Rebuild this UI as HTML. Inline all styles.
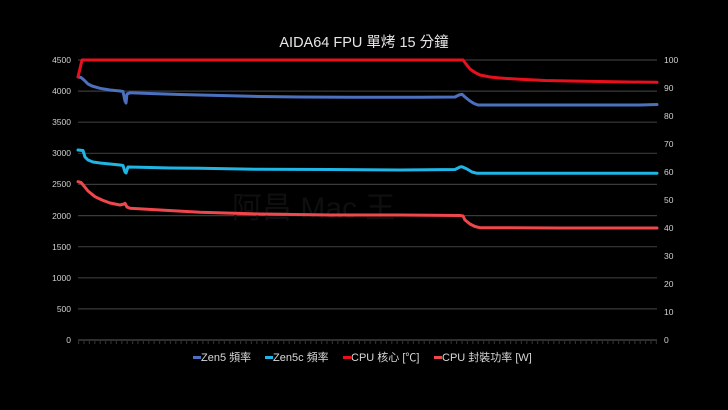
<!DOCTYPE html>
<html><head><meta charset="utf-8"><style>
html,body{margin:0;padding:0;background:#000;}
svg{display:block;}
text{font-family:"Liberation Sans","Noto Sans CJK TC",sans-serif;}
</style></head><body>
<svg width="728" height="410" viewBox="0 0 728 410" xmlns="http://www.w3.org/2000/svg">
<rect width="728" height="410" fill="#000"/>
<text x="364" y="47" text-anchor="middle" font-size="14.5" fill="#e6e6e6">AIDA64 FPU 單烤 15 分鐘</text>
<g stroke="#3a3a3a" stroke-width="1.2">
<line x1="78" y1="60" x2="657" y2="60"/>
<line x1="78" y1="91.1" x2="657" y2="91.1"/>
<line x1="78" y1="122.2" x2="657" y2="122.2"/>
<line x1="78" y1="153.3" x2="657" y2="153.3"/>
<line x1="78" y1="184.4" x2="657" y2="184.4"/>
<line x1="78" y1="215.6" x2="657" y2="215.6"/>
<line x1="78" y1="246.7" x2="657" y2="246.7"/>
<line x1="78" y1="277.8" x2="657" y2="277.8"/>
<line x1="78" y1="308.9" x2="657" y2="308.9"/>
</g>
<line x1="78" y1="340" x2="657" y2="340" stroke="#4a4a4a" stroke-width="1.2"/>
<line x1="78" y1="342.5" x2="657" y2="342.5" stroke="#2c2c2c" stroke-width="3" stroke-dasharray="1.2 4.2"/>
<g font-size="8.5" fill="#d0d0d0" text-anchor="end">
<text x="71" y="63">4500</text>
<text x="71" y="94">4000</text>
<text x="71" y="125">3500</text>
<text x="71" y="156">3000</text>
<text x="71" y="187">2500</text>
<text x="71" y="219">2000</text>
<text x="71" y="250">1500</text>
<text x="71" y="281">1000</text>
<text x="71" y="312">500</text>
<text x="71" y="343">0</text>
</g>
<g font-size="8.5" fill="#d0d0d0">
<text x="664" y="63">100</text>
<text x="664" y="91">90</text>
<text x="664" y="119">80</text>
<text x="664" y="147">70</text>
<text x="664" y="175">60</text>
<text x="664" y="203">50</text>
<text x="664" y="231">40</text>
<text x="664" y="259">30</text>
<text x="664" y="287">20</text>
<text x="664" y="315">10</text>
<text x="664" y="343">0</text>
</g>
<text x="232" y="218" font-size="30" fill="#0f0f0f">阿昌 Mac 王</text>
<g fill="none" stroke-width="3" stroke-linejoin="round" stroke-linecap="round">
<polyline stroke="#f0474d" points="78,181.7 81,182.5 84,186 88,191 95,196.7 102,200 110,203 120,205 124,204 125,203.3 127,207 130,208.3 160,210 200,212.3 260,214 330,215 400,215 460,215.5 463,216 465,220 470,224 475,226.5 480,227.7 560,228 657,228"/>
<polyline stroke="#1fb6e6" points="78,150 83,150.5 85,157 88,160 93,162 100,163 110,164 120,165 123,165.5 125,172 126,173 128,167 140,167.2 170,168 200,168.3 260,169.3 330,169.5 400,170 455,169.5 460,167 462,166.7 467,169 472,172 477,173.3 560,173.3 657,173.3"/>
<polyline stroke="#4a70be" points="78,77 81,77.5 84,80 88,84 92,86 100,88.3 110,90 120,91 123,91.5 125,101 126,103 127,94 130,92.7 150,93.5 180,94.5 220,95.5 260,96.5 300,97 350,97.3 420,97.3 455,97 459,95 462,94.3 465,97 470,101 474,103.5 478,105 560,105 640,105 657,104.5"/>
<polyline stroke="#e8101c" points="78,77 82,60 463,60 466,64 470,69 475,72.5 480,75 490,77 500,78 520,79.3 545,80.5 570,81 600,81.5 630,82 657,82.3"/>
</g>
<g font-size="11" fill="#d8d8d8">
<rect x="193" y="356" width="8" height="3" fill="#4a70be"/>
<text x="201" y="361">Zen5 頻率</text>
<rect x="265" y="356" width="8" height="3" fill="#1fb6e6"/>
<text x="273" y="361">Zen5c 頻率</text>
<rect x="343" y="356" width="8" height="3" fill="#e8101c"/>
<text x="351" y="361">CPU 核心 [℃]</text>
<rect x="434" y="356" width="8" height="3" fill="#f0474d"/>
<text x="442" y="361">CPU 封裝功率 [W]</text>
</g>
</svg>
</body></html>
